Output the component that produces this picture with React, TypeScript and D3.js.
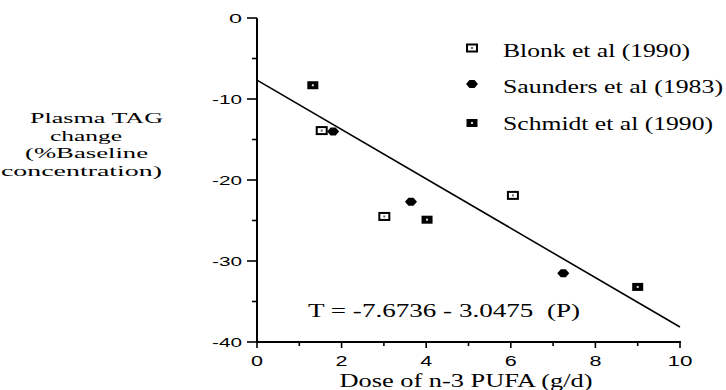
import React from "react";
import * as d3 from "d3";

// Dose of n-3 PUFA (g/d) and plasma TAG change (% baseline) per study
const blonkDose = [1.53, 3.01, 6.05];
const blonkChange = [-13.9, -24.5, -21.9];
const saundersDose = [1.8, 3.64, 7.24];
const saundersChange = [-14.0, -22.7, -31.5];
const schmidtDose = [1.32, 4.02, 9.0];
const schmidtChange = [-8.3, -24.9, -33.2];

// Fitted regression: T = intercept + slope * P
const intercept = -7.6736;
const slope = -3.0475;

const xTicks = [0, 2, 4, 6, 8, 10];
const xMinorTicks = [1, 3, 5, 7, 9];
const yTicks = [0, -10, -20, -30, -40];
const yMinorTicks = [-5, -15, -25, -35];

const legendLabels = ["Blonk et al (1990)", "Saunders et al (1983)", "Schmidt et al (1990)"];
const yTitleLines = ["Plasma TAG", "change", "(%Baseline", "concentration)"];

const W = 726;
const H = 390;
const x = d3.scaleLinear().domain([0, 10]).range([257, 680]);
const y = d3.scaleLinear().domain([0, -40]).range([18, 342]);

const serif = "'Liberation Serif', 'DejaVu Serif', serif";
const sans = "'Liberation Sans', Arial, sans-serif";

// Wide face: text is stretched horizontally to a fixed span
const titleSpans = [
  [30, 163],
  [50, 122],
  [25, 148],
  [1, 162],
];
const legendWidths = [187, 220, 210];
const legendBaselines = [57, 93, 130];
const legendMarkerY = [48, 84, 123];

function OpenSquare({ cx, cy }: { cx: number; cy: number }) {
  return (
    <g>
      <rect x={cx - 5} y={cy - 3.5} width={10} height={7} fill="#fff" stroke="#000" strokeWidth={2} />
      <rect x={cx - 1} y={cy - 1} width={2} height={2} fill="#666" />
    </g>
  );
}

function FilledSquare({ cx, cy }: { cx: number; cy: number }) {
  return (
    <g>
      <rect x={cx - 5.5} y={cy - 4} width={11} height={8} fill="#000" />
      <rect x={cx - 1} y={cy - 1} width={2} height={2} fill="#ddd" />
    </g>
  );
}

function Diamond({ cx, cy }: { cx: number; cy: number }) {
  const pts = [
    [cx - 6, cy],
    [cx - 2.5, cy - 4],
    [cx + 2.5, cy - 4],
    [cx + 6, cy],
    [cx + 2.5, cy + 4],
    [cx - 2.5, cy + 4],
  ]
    .map((p) => p.join(","))
    .join(" ");
  return <polygon points={pts} fill="#000" />;
}

export default function App() {
  const fitLine = d3
    .line<number>()
    .x((d) => x(d))
    .y((d) => y(intercept + slope * d));
  const fitPath = fitLine([0, 10]) || "";

  const yTickLabelWidth = (v: number) => (v === 0 ? 13 : 30);
  const xTickLabelWidth = (v: number) => (v === 10 ? 25 : 12);

  return (
    <svg
      width={W}
      height={H}
      viewBox={`0 0 ${W} ${H}`}
      style={{ position: "absolute", left: 0, top: 0, background: "#fff" }}
    >
      <rect width={W} height={H} fill="#fff" />

      {/* Axes */}
      <line x1={x(0)} y1={y(0)} x2={x(0)} y2={y(-40) + 1} stroke="#000" strokeWidth={2} />
      <line x1={x(0) - 1} y1={y(-40)} x2={x(10) + 1} y2={y(-40)} stroke="#000" strokeWidth={2} />

      {/* Y ticks */}
      {yTicks.map((v) => (
        <g key={`yt${v}`}>
          <line x1={x(0) - 10} x2={x(0)} y1={y(v)} y2={y(v)} stroke="#000" strokeWidth={1.6} />
          <text
            x={242}
            y={y(v) + 5}
            textAnchor="end"
            fontFamily={sans}
            fontSize={13}
            textLength={yTickLabelWidth(v)}
            lengthAdjust="spacingAndGlyphs"
          >
            {v}
          </text>
        </g>
      ))}
      {yMinorTicks.map((v) => (
        <line key={`ym${v}`} x1={x(0) - 5} x2={x(0)} y1={y(v)} y2={y(v)} stroke="#000" strokeWidth={1.6} />
      ))}

      {/* X ticks */}
      {xTicks.map((v) => (
        <g key={`xt${v}`}>
          <line x1={x(v)} x2={x(v)} y1={y(-40)} y2={y(-40) + 6} stroke="#000" strokeWidth={1.6} />
          <text
            x={x(v)}
            y={366}
            textAnchor="middle"
            fontFamily={sans}
            fontSize={14}
            textLength={xTickLabelWidth(v)}
            lengthAdjust="spacingAndGlyphs"
          >
            {v}
          </text>
        </g>
      ))}
      {xMinorTicks.map((v) => (
        <line key={`xm${v}`} x1={x(v)} x2={x(v)} y1={y(-40)} y2={y(-40) + 4} stroke="#000" strokeWidth={1.6} />
      ))}

      {/* Regression line */}
      <path d={fitPath} fill="none" stroke="#000" strokeWidth={1.6} />

      {/* Data points */}
      {blonkDose.map((d, i) => (
        <OpenSquare key={`b${i}`} cx={x(d)} cy={y(blonkChange[i])} />
      ))}
      {saundersDose.map((d, i) => (
        <Diamond key={`s${i}`} cx={x(d)} cy={y(saundersChange[i])} />
      ))}
      {schmidtDose.map((d, i) => (
        <FilledSquare key={`c${i}`} cx={x(d)} cy={y(schmidtChange[i])} />
      ))}

      {/* Legend */}
      <OpenSquare cx={472} cy={legendMarkerY[0]} />
      <Diamond cx={472} cy={legendMarkerY[1]} />
      <FilledSquare cx={472} cy={legendMarkerY[2]} />
      {legendLabels.map((label, i) => (
        <text
          key={label}
          x={503}
          y={legendBaselines[i]}
          fontFamily={serif}
          fontSize={19}
          textLength={legendWidths[i]}
          lengthAdjust="spacingAndGlyphs"
        >
          {label}
        </text>
      ))}

      {/* Regression equation */}
      <text
        x={308}
        y={317}
        fontFamily={serif}
        fontSize={19}
        textLength={272}
        lengthAdjust="spacingAndGlyphs"
        xmlSpace="preserve"
      >
        {`T = ${intercept} - ${Math.abs(slope)}  (P)`}
      </text>

      {/* Axis titles */}
      <text
        x={466}
        y={387}
        textAnchor="middle"
        fontFamily={serif}
        fontSize={19}
        textLength={253}
        lengthAdjust="spacingAndGlyphs"
      >
        Dose of n-3 PUFA (g/d)
      </text>
      {yTitleLines.map((line, i) => (
        <text
          key={line}
          x={titleSpans[i][0]}
          y={123 + i * 17.5}
          fontFamily={serif}
          fontSize={15.5}
          textLength={titleSpans[i][1] - titleSpans[i][0]}
          lengthAdjust="spacingAndGlyphs"
        >
          {line}
        </text>
      ))}
    </svg>
  );
}
